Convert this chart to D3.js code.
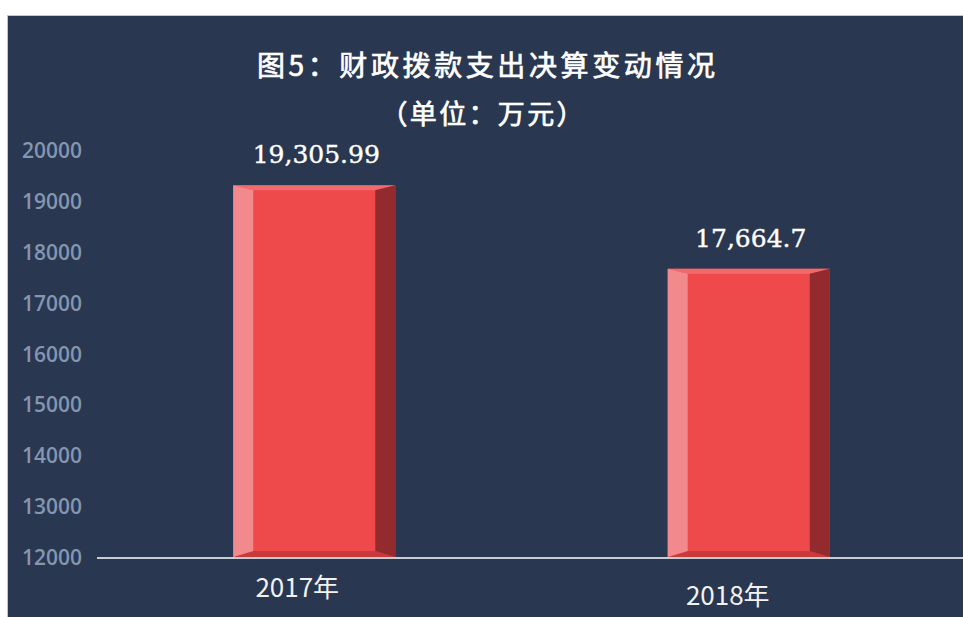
<!DOCTYPE html>
<html>
<head>
<meta charset="utf-8">
<script src="https://cdn.jsdelivr.net/npm/d3@7"></script>
<style>
  html, body { margin: 0; padding: 0; background: #ffffff; }
  #chart { width: 963px; height: 617px; }
</style>
</head>
<body>
<div id="chart"></div>
<script>
/* ── data ─────────────────────────────────────────────────────────── */
const categories = ['2017年', '2018年'];
const values     = [19305.99, 17664.7];
const yTicks     = [12000, 13000, 14000, 15000, 16000, 17000, 18000, 19000, 20000];
const titleText  = '图5：财政拨款支出决算变动情况';
const subText    = '（单位：万元）';

/* ── layout ───────────────────────────────────────────────────────── */
const W = 963, H = 617;
const PANEL = { x: 8, y: 16 };
const plot = { l: 97, r: 966, t: 150, b: 557 };
const BEVEL_SIDE = 20, BEVEL_TOP = 5, BEVEL_BOT = 6;
const CJK = '"Noto Sans CJK SC", "Noto Sans", sans-serif';

const svg = d3.select('#chart').append('svg')
  .attr('width', W).attr('height', H)
  .attr('viewBox', `0 0 ${W} ${H}`);

/* panel */
svg.append('rect')
  .attr('x', PANEL.x - 0.5).attr('y', PANEL.y - 0.5)
  .attr('width', W - PANEL.x + 1).attr('height', H - PANEL.y + 1)
  .attr('fill', '#2a3750').attr('stroke', '#c3c6cc').attr('stroke-width', 1);

/* title */
svg.append('text')
  .attr('x', 486).attr('y', 64)
  .attr('text-anchor', 'middle').attr('dominant-baseline', 'central')
  .attr('font-family', CJK).attr('font-weight', 400).attr('font-size', 28)
  .attr('stroke', '#ffffff').attr('stroke-width', 0.7)
  .attr('textLength', 458).attr('lengthAdjust', 'spacing')
  .attr('fill', '#ffffff').text(titleText);
svg.append('text')
  .attr('x', 482).attr('y', 112)
  .attr('text-anchor', 'middle').attr('dominant-baseline', 'central')
  .attr('font-family', CJK).attr('font-weight', 400).attr('font-size', 27)
  .attr('stroke', '#ffffff').attr('stroke-width', 0.7)
  .attr('textLength', 203).attr('lengthAdjust', 'spacing')
  .attr('fill', '#ffffff').text(subText);

/* scales */
const x = d3.scaleBand().domain(categories)
  .range([plot.l, plot.r]).paddingInner(0.627).paddingOuter(0.3135);
const y = d3.scaleLinear().domain([12000, 20000]).range([plot.b, plot.t]);

/* y axis (labels only) */
const yAxis = svg.append('g').attr('transform', 'translate(82,0)')
  .call(d3.axisLeft(y).tickValues(yTicks).tickSize(0).tickPadding(0).tickFormat(d3.format('d')));
yAxis.select('.domain').remove();
yAxis.selectAll('text')
  .attr('font-family', '"Open Sans", "Liberation Sans", sans-serif')
  .attr('font-weight', 600).attr('font-size', 21)
  .attr('fill', '#8496b0').attr('dy', '0.36em')
  .attr('textLength', 60).attr('lengthAdjust', 'spacingAndGlyphs');

/* bars with bevel faces */
const bars = svg.append('g').selectAll('g.bar')
  .data(categories.map((c, i) => ({ cat: c, v: values[i] })))
  .join('g').attr('class', 'bar');

bars.each(function(d) {
  const g = d3.select(this);
  const x0 = x(d.cat), x1 = x0 + x.bandwidth();
  const t = y(d.v), b = y.range()[0];
  const poly = pts => pts.map(p => p.join(',')).join(' ');
  g.append('rect').attr('x', x0).attr('y', t)
    .attr('width', x1 - x0).attr('height', b - t).attr('fill', '#ee4a4c');
  /* top */
  g.append('polygon').attr('fill', '#f36a6c').attr('points', poly([
    [x0, t], [x1, t], [x1 - BEVEL_SIDE, t + BEVEL_TOP], [x0 + BEVEL_SIDE, t + BEVEL_TOP]]));
  /* bottom */
  g.append('polygon').attr('fill', '#c93a3d').attr('points', poly([
    [x0, b], [x1, b], [x1 - BEVEL_SIDE, b - BEVEL_BOT], [x0 + BEVEL_SIDE, b - BEVEL_BOT]]));
  /* left */
  g.append('polygon').attr('fill', '#f28a8d').attr('points', poly([
    [x0, t], [x0 + BEVEL_SIDE, t + BEVEL_TOP], [x0 + BEVEL_SIDE, b - BEVEL_BOT], [x0, b]]));
  /* right */
  g.append('polygon').attr('fill', '#922a2e').attr('points', poly([
    [x1, t], [x1 - BEVEL_SIDE, t + BEVEL_TOP], [x1 - BEVEL_SIDE, b - BEVEL_BOT], [x1, b]]));
});

/* value labels */
const fmt = d3.format(',');
bars.append('text')
  .attr('x', d => x(d.cat) + x.bandwidth() / 2 + 2)
  .attr('y', d => y(d.v) - 22)
  .attr('text-anchor', 'middle')
  .attr('font-family', '"DejaVu Serif", "Liberation Serif", serif')
  .attr('font-size', 25)
  .attr('stroke', '#ffffff').attr('stroke-width', 0.4)
  .attr('fill', '#ffffff')
  .text(d => fmt(d.v));

/* baseline */
svg.append('line')
  .attr('x1', plot.l).attr('x2', W)
  .attr('y1', plot.b + 1).attr('y2', plot.b + 1)
  .attr('stroke', '#c8ccd3').attr('stroke-width', 2);

/* x axis labels */
const xLabelShift = [[-17, 0], [-21, 8]];
const xAxis = svg.append('g').attr('transform', `translate(0,${plot.b})`)
  .call(d3.axisBottom(x).tickSize(0).tickPadding(0));
xAxis.select('.domain').remove();
xAxis.selectAll('text')
  .attr('font-family', CJK).attr('font-size', 26)
  .attr('fill', '#f2f2f2')
  .attr('dy', null)
  .attr('transform', (d, i) => `translate(${xLabelShift[i][0]},${40 + xLabelShift[i][1]})`);
</script>
</body>
</html>
